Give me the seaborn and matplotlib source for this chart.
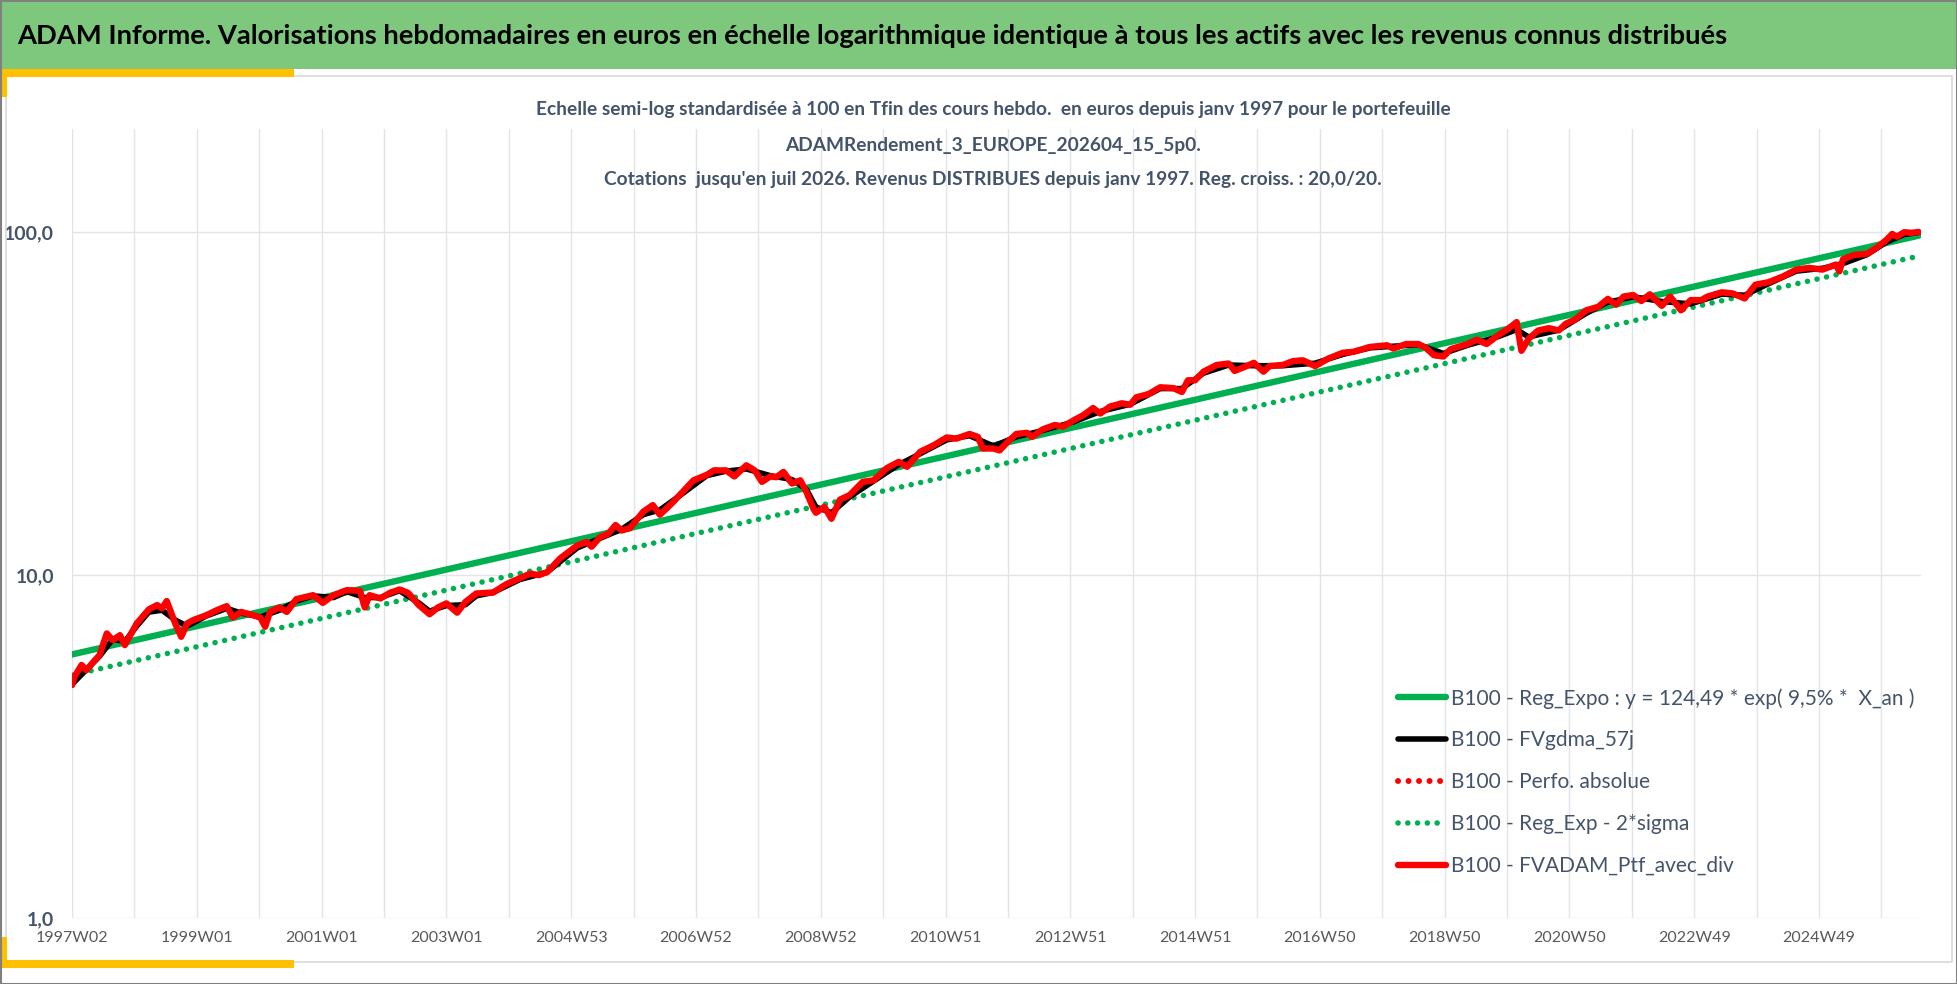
import matplotlib
matplotlib.use("Agg")
import matplotlib.pyplot as plt
import seaborn as sns
from matplotlib.patches import Rectangle

# week index counted from 1997W02 (base 100 at the end)
tick_labels = ["1997W02", "1999W01", "2001W01", "2003W01", "2004W53", "2006W52",
               "2008W52", "2010W51", "2012W51", "2014W51", "2016W50", "2018W50",
               "2020W50", "2022W49", "2024W49"]
label_step = 104
grid_step = 52
last_week = 1539

reg_weeks = [0, 1539]
reg_values = [5.87, 97.7]
sigma_values = [5.11, 85.2]

ptf_weeks = [0, 2, 8, 12, 18, 23, 29, 34, 40, 44, 54, 64, 71, 75, 79, 86, 91, 96, 101, 112,
             121, 129, 134, 141, 151, 157, 161, 165, 173, 179, 187, 201, 209, 218, 229, 240,
             244, 248, 257, 265, 273, 280, 289, 298, 305, 312, 321, 328, 337, 351, 362, 373,
             382, 389, 396, 407, 421, 429, 433, 440, 447, 453, 458, 465, 476, 484, 490, 500,
             509, 518, 529, 535, 545, 552, 562, 569, 575, 582, 587, 593, 600, 607, 612, 618,
             620, 627, 633, 640, 648, 659, 668, 679, 689, 696, 707, 718, 729, 737, 748, 755,
             759, 768, 773, 779, 787, 796, 800, 809, 819, 826, 835, 843, 851, 857, 865, 875,
             882, 887, 897, 907, 918, 925, 930, 936, 943, 954, 964, 969, 976, 985, 993, 998,
             1009, 1018, 1026, 1036, 1047, 1059, 1068, 1082, 1096, 1101, 1112, 1122, 1128,
             1135, 1143, 1149, 1163, 1171, 1179, 1188, 1197, 1204, 1208, 1214, 1222, 1231,
             1239, 1245, 1253, 1262, 1272, 1280, 1287, 1293, 1301, 1308, 1315, 1325, 1332,
             1341, 1349, 1358, 1363, 1375, 1384, 1394, 1403, 1414, 1426, 1437, 1448, 1459,
             1470, 1473, 1476, 1485, 1496, 1504, 1512, 1517, 1521, 1527, 1533, 1539]
ptf_values = [4.78, 5.05, 5.47, 5.28, 5.59, 5.85, 6.76, 6.46, 6.68, 6.25, 7.23, 7.94, 8.18,
              8.0, 8.4, 7.23, 6.61, 7.23, 7.39, 7.64, 7.91, 8.12, 7.52, 7.81, 7.64, 7.52, 7.07,
              7.81, 8.05, 7.81, 8.51, 8.74, 8.30, 8.74, 9.04, 9.0, 8.05, 8.74, 8.55, 8.88, 9.08,
              8.88, 8.18, 7.69, 8.05, 8.27, 7.77, 8.36, 8.84, 8.9, 9.41, 9.78, 10.1, 10.0, 10.2,
              11.2, 12.2, 12.5, 12.1, 12.9, 13.2, 14.0, 13.5, 13.7, 15.3, 16.0, 15.0, 16.2,
              17.5, 18.9, 19.6, 20.2, 20.2, 19.4, 20.9, 20.2, 18.7, 19.4, 19.3, 20.0, 18.5,
              18.9, 17.5, 15.6, 15.2, 15.8, 14.6, 16.6, 17.1, 18.7, 18.9, 20.5, 21.4, 20.7,
              22.9, 23.9, 25.2, 25.0, 25.8, 25.3, 23.4, 23.4, 23.1, 24.3, 25.8, 26.0, 25.3,
              26.6, 27.4, 27.1, 28.3, 29.3, 30.7, 29.6, 31.0, 31.7, 31.4, 33.0, 33.7, 35.3,
              35.1, 34.2, 37.0, 37.0, 39.2, 41.0, 41.4, 39.4, 40.3, 41.6, 39.2, 40.7, 41.0,
              42.1, 42.3, 40.7, 42.8, 44.5, 44.8, 46.3, 46.8, 45.8, 47.2, 47.2, 46.1, 43.8,
              43.4, 45.6, 47.2, 48.6, 47.2, 49.9, 52.3, 54.7, 45.1, 48.9, 51.7, 52.5, 51.7,
              54.1, 55.7, 59.2, 60.6, 63.9, 61.5, 64.9, 65.6, 63.0, 65.9, 61.0, 64.9, 59.2,
              63.4, 63.4, 64.9, 66.8, 66.3, 64.1, 70.3, 71.5, 74.3, 77.8, 78.7, 77.8, 80.5,
              76.9, 83.4, 85.8, 86.5, 90.1, 94.8, 98.8, 97.0, 100.0, 99.6, 100.2]

gdma_weeks = [0, 12, 23, 34, 44, 54, 64, 75, 86, 96, 112, 129, 141, 157, 173, 187, 201, 218,
              229, 244, 257, 273, 289, 298, 312, 328, 337, 351, 373, 396, 421, 440, 458, 476,
              490, 509, 529, 545, 562, 582, 600, 612, 620, 633, 648, 668, 689, 707, 729, 748,
              768, 787, 809, 835, 857, 882, 907, 925, 943, 964, 985, 1009, 1036, 1059, 1082,
              1101, 1122, 1143, 1163, 1188, 1204, 1214, 1239, 1262, 1280, 1301, 1325, 1349,
              1375, 1394, 1414, 1437, 1459, 1476, 1496, 1512, 1527, 1539]
gdma_values = [4.8, 5.3, 5.8, 6.5, 6.4, 7.1, 7.8, 7.9, 7.4, 7.1, 7.6, 8.0, 7.75, 7.55, 7.9,
               8.4, 8.7, 8.6, 8.95, 8.6, 8.6, 9.0, 8.3, 7.85, 8.15, 8.2, 8.7, 8.9, 9.7, 10.2,
               12.0, 12.8, 13.6, 15.0, 15.5, 17.3, 19.5, 20.1, 20.4, 19.5, 19.0, 17.8, 15.8,
               15.2, 16.9, 18.8, 21.0, 22.6, 24.8, 25.5, 23.8, 25.3, 26.4, 28.0, 30.0, 31.5,
               35.0, 35.0, 38.8, 41.0, 40.8, 40.8, 41.5, 44.0, 46.0, 46.5, 47.0, 44.3, 46.8,
               49.5, 52.0, 49.5, 51.8, 58.0, 62.5, 64.8, 62.8, 61.8, 66.0, 65.5, 70.8, 77.0,
               78.5, 81.0, 86.0, 93.5, 98.5, 99.8]

legend_labels = ["B100 - Reg_Expo : y = 124,49 * exp( 9,5% *  X_an )",
                 "B100 - FVgdma_57j",
                 "B100 - Perfo. absolue",
                 "B100 - Reg_Exp - 2*sigma",
                 "B100 - FVADAM_Ptf_avec_div"]

main_title = ("ADAM Informe. Valorisations hebdomadaires en euros en échelle logarithmique "
              "identique à tous les actifs avec les revenus connus distribués")
chart_title = ["Echelle semi-log standardisée à 100 en Tfin des cours hebdo.  en euros depuis janv 1997 pour le portefeuille",
               "ADAMRendement_3_EUROPE_202604_15_5p0.",
               "Cotations  jusqu'en juil 2026. Revenus DISTRIBUES depuis janv 1997. Reg. croiss. : 20,0/20."]

sns.set_theme(style="white")
plt.rcParams["font.family"] = ["Lato", "DejaVu Sans"]

W, H = 1958, 984
fig = plt.figure(figsize=(W / 100, H / 100), dpi=100)


def fx(px):
    return px / W


def fy(py):
    return 1 - py / H


def box(x0, y0, x1, y1, **kw):
    fig.add_artist(Rectangle((fx(x0), fy(y1)), (x1 - x0) / W, (y1 - y0) / H,
                             transform=fig.transFigure, **kw))


# frame, banner and yellow corners
box(0, 0, 1958, 69, color="#7ec87e", lw=0)
box(6, 76, 1952, 962, fill=False, ec="#d9d9d9", lw=1.2)
box(0, 69, 294, 77, color="#ffc000", lw=0)
box(0, 69, 7, 97, color="#ffc000", lw=0)
box(0, 960, 294, 968, color="#ffc000", lw=0)
box(0, 937, 7, 968, color="#ffc000", lw=0)
box(0.5, 0.5, 1957.5, 983.5, fill=False, ec="#808080", lw=1.5)

fig.text(fx(17), fy(36), main_title, ha="left", va="center", fontsize=19.75,
         fontweight="bold", color="black")
for i, line in enumerate(chart_title):
    fig.text(fx(993), fy(110 + 35 * i), line, ha="center", va="center", fontsize=13.8,
             fontweight="bold", color="#44546a")

ax = fig.add_axes([fx(72), fy(918), (1921 - 72) / W, (918 - 129) / H])
ax.set_facecolor("none")

green = "#00b050"
red = "#ff0000"
sns.lineplot(x=reg_weeks, y=reg_values, ax=ax, color=green, lw=4.6, zorder=2)
sns.lineplot(x=gdma_weeks, y=gdma_values, ax=ax, color="black", lw=4.0, zorder=3)
sns.lineplot(x=ptf_weeks, y=ptf_values, ax=ax, color=red, lw=4.3, zorder=3.5)
sns.lineplot(x=reg_weeks, y=sigma_values, ax=ax, color=green, lw=4.0, zorder=2)
sns.lineplot(x=ptf_weeks, y=ptf_values, ax=ax, color=red, lw=4.6, zorder=4)

lines = ax.get_lines()
for ln in (lines[2], lines[3]):
    ln.set_dashes([0.01, 1.75])
    ln.set_dash_capstyle("round")
for ln in lines:
    ln.set_solid_capstyle("round")

ax.set_yscale("log")
ax.set_ylim(1, 200)
ax.set_yticks([1, 10, 100])
ax.set_yticklabels(["1,0", "10,0", "100,0"])
ax.minorticks_off()
ax.set_xlim(0, 1541)
grid_pos = list(range(0, last_week + 1, grid_step))
ax.set_xticks(grid_pos)
ax.set_xticklabels([tick_labels[p // label_step] if p % label_step == 0 else ""
                    for p in grid_pos])
ax.grid(True, which="major", color="#e1e4ea", lw=1.0)
ax.set_axisbelow(True)
for s in ax.spines.values():
    s.set_visible(False)
ax.tick_params(axis="both", length=0)
ax.tick_params(axis="y", pad=13, labelsize=14, labelcolor="#44546a")
ax.tick_params(axis="x", pad=9, labelsize=11.5, labelcolor="#595959")
for t in ax.get_yticklabels():
    t.set_fontweight("bold")
ax.set_xlabel("")
ax.set_ylabel("")

ax.legend(lines, legend_labels, loc="upper left", bbox_to_anchor=(fx(1398), fy(688)),
          bbox_transform=fig.transFigure, frameon=False, fontsize=15, labelcolor="#44546a",
          handlelength=2.3, handletextpad=0.25, labelspacing=1.05, borderpad=0,
          borderaxespad=0)

fig.savefig("out.png", dpi=100)
